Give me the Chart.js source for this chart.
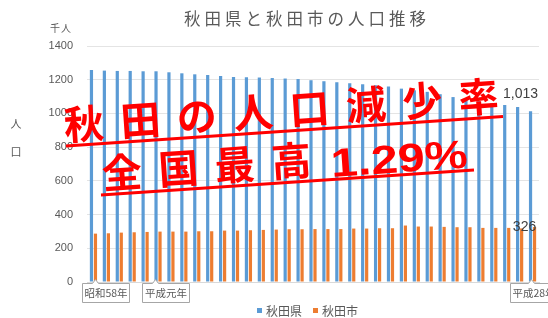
<!DOCTYPE html>
<html>
<head>
<meta charset="utf-8">
<script src="https://cdn.jsdelivr.net/npm/chart.js@4.4.0/dist/chart.umd.min.js"></script>
<style>
  html, body { margin: 0; padding: 0; background: #fff; }
</style>
</head>
<body>
<canvas id="popChart" width="548" height="318"></canvas>
<script>
// 年（ラベルは吹き出しの3つだけ表示）
const years = [
  '昭和58年', '', '', '', '', '平成元年', '', '', '', '',
  '', '', '', '', '', '', '', '', '', '',
  '', '', '', '', '', '', '', '', '', '',
  '', '', '', '', '平成28年'
];

// 秋田県の人口（千人）
const prefPop = [
  1258, 1254, 1252, 1252, 1250, 1250, 1244, 1238, 1232, 1228,
  1222, 1216, 1214, 1213, 1210, 1207, 1204, 1197, 1191, 1185,
  1179, 1173, 1167, 1160, 1147, 1137, 1128, 1114, 1097, 1086,
  1073, 1062, 1050, 1038, 1013
];

// 秋田市の人口（千人）
const cityPop = [
  287, 289, 293, 295, 297, 299, 299, 299, 301, 301,
  305, 305, 307, 309, 311, 313, 313, 314, 314, 314,
  317, 317, 319, 319, 335, 329, 329, 327, 325, 325,
  321, 321, 321, 318, 326
];

const seriesNames = ['秋田県', '秋田市'];
const yTicks = [0, 200, 400, 600, 800, 1000, 1200, 1400];

const blue = '#5b9bd5';
const orange = '#ed7d31';
const gray = '#595959';
const jp = '"Noto Sans CJK JP", sans-serif';

// 吹き出しラベル
const callouts = [
  { index: 0, dx: -11, px: 13 },
  { index: 5, dx: -16, px: 13 },
  { index: 34, dx: -23, px: 21 }
];

// 1文字ずつ並べて描く
function spaced(ctx, text, x, y, step) {
  text.split('').forEach((ch, k) => ctx.fillText(ch, x + k * step, y));
}

const overlay = {
  id: 'overlay',
  afterDraw(chart) {
    const ctx = chart.ctx;
    const xs = chart.scales.x;

    // タイトル
    ctx.save();
    ctx.fillStyle = gray;
    ctx.textAlign = 'left';
    ctx.textBaseline = 'middle';
    ctx.font = '16.5px ' + jp;
    spaced(ctx, '秋田県と秋田市の人口推移', 184, 19, 20.5);
    ctx.font = '10px ' + jp;
    spaced(ctx, '千人', 50, 28, 11);
    ctx.font = '11px ' + jp;
    ctx.textAlign = 'center';
    ctx.fillText('人', 16, 124);
    ctx.fillText('口', 16, 152);

    // 凡例
    ctx.textAlign = 'left';
    ctx.font = '12px ' + jp;
    ctx.fillStyle = blue;
    ctx.fillRect(257, 308, 5, 5);
    ctx.fillStyle = gray;
    spaced(ctx, seriesNames[0], 266, 311, 12);
    ctx.fillStyle = orange;
    ctx.fillRect(313, 308, 5, 5);
    ctx.fillStyle = gray;
    spaced(ctx, seriesNames[1], 322, 311, 12);

    // 吹き出し
    callouts.forEach(c => {
      const cx = xs.getPixelForValue(c.index);
      const left = Math.round(cx + c.dx) + 0.5;
      const top = 283.5, w = 47, h = 19;
      const px = left + c.px;
      ctx.beginPath();
      ctx.moveTo(left, top);
      ctx.lineTo(px - 3, top);
      ctx.lineTo(px, top - 4);
      ctx.lineTo(px + 3, top);
      ctx.lineTo(left + w, top);
      ctx.lineTo(left + w, top + h);
      ctx.lineTo(left, top + h);
      ctx.closePath();
      ctx.fillStyle = '#fff';
      ctx.fill();
      ctx.strokeStyle = '#a6a6a6';
      ctx.lineWidth = 1;
      ctx.stroke();
      ctx.fillStyle = gray;
      ctx.textAlign = 'center';
      ctx.font = '10.5px ' + jp;
      ctx.fillText(years[c.index], left + w / 2, top + h / 2 + 0.5);
    });

    // 最終年のデータラベル
    const last = prefPop.length - 1;
    const b = chart.getDatasetMeta(0).data[last];
    const o = chart.getDatasetMeta(1).data[last];
    ctx.fillStyle = '#404040';
    ctx.textAlign = 'center';
    ctx.font = '14px "Liberation Sans", sans-serif';
    ctx.fillText(prefPop[last].toLocaleString('en-US'), b.x - 10, b.y - 17);
    ctx.fillText(String(cityPop[last]), o.x - 10, o.y);

    // 赤い文字
    const ang = -3.9 * Math.PI / 180;
    const step = 56.5;
    ctx.fillStyle = '#ff0000';
    ctx.textAlign = 'left';
    ctx.font = 'bold 40px ' + jp;

    ctx.save();
    ctx.translate(64, 125);
    ctx.rotate(ang);
    spaced(ctx, '秋田の人口減少率', 0, 0, step);
    ctx.restore();

    ctx.save();
    ctx.translate(102, 173.5);
    ctx.rotate(ang);
    spaced(ctx, '全国最高', 0, 0, step);
    ctx.translate(229, 0);
    ctx.textBaseline = 'alphabetic';
    ctx.font = 'bold 40px "Liberation Sans", sans-serif';
    const tw = ctx.measureText('1.29%').width;
    ctx.scale(137 / tw, 1);
    ctx.fillText('1.29%', 0, 19);
    ctx.restore();

    ctx.strokeStyle = '#ff0000';
    ctx.lineWidth = 3;
    ctx.beginPath();
    ctx.moveTo(66, 146);
    ctx.lineTo(503, 116.5);
    ctx.moveTo(101, 195);
    ctx.lineTo(474, 170);
    ctx.stroke();

    ctx.restore();
  }
};

new Chart(document.getElementById('popChart').getContext('2d'), {
  type: 'bar',
  data: {
    labels: years,
    datasets: [
      {
        label: seriesNames[0],
        data: prefPop,
        backgroundColor: blue,
        categoryPercentage: 0.62,
        barPercentage: 0.8
      },
      {
        label: seriesNames[1],
        data: cityPop,
        backgroundColor: orange,
        categoryPercentage: 0.62,
        barPercentage: 0.8
      }
    ]
  },
  options: {
    responsive: false,
    animation: false,
    layout: { padding: { top: 46, right: 9, bottom: 36, left: 0 } },
    plugins: {
      legend: { display: false },
      title: { display: false },
      tooltip: { enabled: false }
    },
    scales: {
      x: {
        ticks: { display: false },
        grid: { display: false },
        border: { color: '#d9d9d9' },
        afterFit: s => { s.height = 0; }
      },
      y: {
        min: 0,
        max: 1400,
        afterBuildTicks: s => { s.ticks = yTicks.map(v => ({ value: v })); },
        ticks: {
          padding: 14,
          color: gray,
          font: { family: 'Liberation Sans', size: 11 },
          callback: v => String(v)
        },
        grid: { color: '#e4e4e4', drawTicks: false },
        border: { display: false },
        afterFit: s => { s.width = 87; }
      }
    }
  },
  plugins: [overlay]
});
</script>
</body>
</html>
